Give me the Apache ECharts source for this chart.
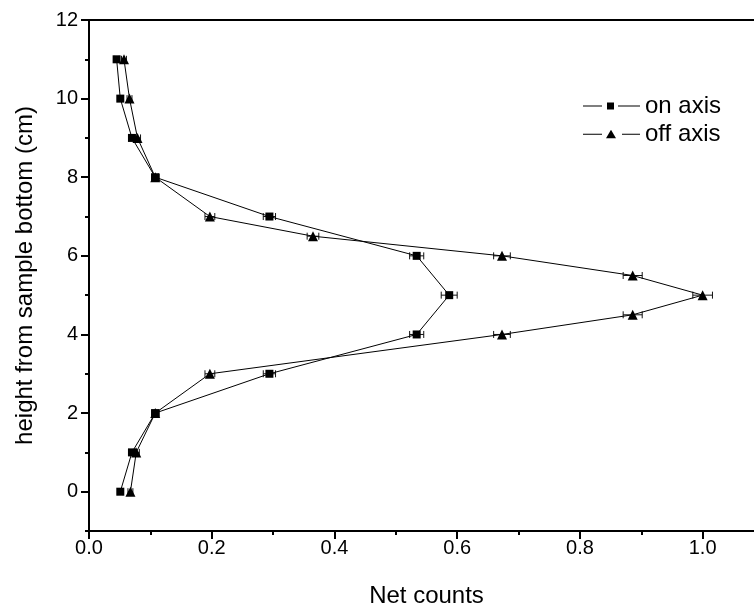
<!DOCTYPE html>
<html><head><meta charset="utf-8">
<script src="https://cdn.jsdelivr.net/npm/echarts@6/dist/echarts.min.js"></script>
<style>html,body{margin:0;padding:0;background:#fff}#c{width:754px;height:608px}</style>
</head><body><div id="c"></div>
<script>
// Data
const heightsOn = [11, 10, 9, 8, 7, 6, 5, 4, 3, 2, 1, 0];
const countsOn  = [0.045, 0.051, 0.070, 0.108, 0.294, 0.534, 0.587, 0.534, 0.294, 0.108, 0.070, 0.051];
const errOn     = [0.004, 0.004, 0.005, 0.006, 0.010, 0.0115, 0.013, 0.0115, 0.010, 0.006, 0.005, 0.004];

const heightsOff = [11, 10, 9, 8, 7, 6.5, 6, 5.5, 5, 4.5, 4, 3, 2, 1, 0];
const countsOff  = [0.057, 0.066, 0.079, 0.108, 0.197, 0.365, 0.673, 0.886, 1.0, 0.886, 0.673, 0.197, 0.108, 0.077, 0.0675];
const errOff     = [0.004, 0.004, 0.005, 0.006, 0.008, 0.0095, 0.0136, 0.0155, 0.016, 0.0155, 0.0136, 0.008, 0.006, 0.005, 0.004];

const xTickValues = [0, 0.2, 0.4, 0.6, 0.8, 1.0];
const yTickValues = [0, 2, 4, 6, 8, 10, 12];
const seriesNames = ['on axis', 'off axis'];
const xName = 'Net counts';
const yName = 'height from sample bottom (cm)';

const FONT = "'Liberation Sans', Arial, sans-serif";

const onData = countsOn.map((c, i) => [c, heightsOn[i]]);
const offData = countsOff.map((c, i) => [c, heightsOff[i]]);
const onErr = countsOn.map((c, i) => [c, heightsOn[i], errOn[i]]);
const offErr = countsOff.map((c, i) => [c, heightsOff[i], errOff[i]]);

function renderErr(params, api) {
  const x = api.value(0), y = api.value(1), e = api.value(2);
  const p1 = api.coord([x - e, y]);
  const p2 = api.coord([x + e, y]);
  const h = 3.5;
  const st = { stroke: '#111', lineWidth: 1, fill: null };
  return {
    type: 'group',
    children: [
      { type: 'line', shape: { x1: p1[0], y1: p1[1], x2: p2[0], y2: p2[1] }, style: st },
      { type: 'line', shape: { x1: p1[0], y1: p1[1] - h, x2: p1[0], y2: p1[1] + h }, style: st },
      { type: 'line', shape: { x1: p2[0], y1: p2[1] - h, x2: p2[0], y2: p2[1] + h }, style: st }
    ]
  };
}

const axisLineStyle = { color: '#000', width: 2 };

const chart = echarts.init(document.getElementById('c'), null, { renderer: 'canvas' });
chart.setOption({
  animation: false,
  backgroundColor: '#fff',
  textStyle: { fontFamily: FONT, color: '#000' },
  grid: { left: 89, top: 20, right: -10, bottom: 77, outerBoundsMode: 'none', containLabel: false },
  legend: {
    orient: 'vertical',
    left: 578,
    top: 89,
    itemWidth: 57,
    itemHeight: 14,
    itemGap: 4,
    itemStyle: { borderWidth: 0 },
    textStyle: { fontSize: 24, color: '#000', fontFamily: FONT, padding: [0, 0, 0, 0] },
    data: [
      { name: seriesNames[0], icon: 'path://M0,6.5H19V7.5H0Z M24,3.5H31V10.5H24Z M35,6.5H57V7.5H35Z' },
      { name: seriesNames[1], icon: 'path://M0,6.5H19V7.5H0Z M23,11L28,2.5L33,11Z M39,6.5H57V7.5H39Z' }
    ]
  },
  xAxis: [
    {
      type: 'value', position: 'bottom', min: 0, max: 1.1,
      name: xName, nameLocation: 'middle', nameGap: 53,
      nameTextStyle: { fontSize: 24, color: '#000', fontFamily: FONT },
      axisLine: { show: true, onZero: false, lineStyle: axisLineStyle },
      axisTick: { show: true, length: 8, lineStyle: { color: '#000', width: 2 }, customValues: xTickValues },
      axisLabel: { show: true, fontSize: 20, color: '#000', fontFamily: FONT, margin: 7,
        customValues: xTickValues, formatter: v => v.toFixed(1) },
      splitLine: { show: false }
    },
    {
      type: 'value', position: 'bottom', min: 0, max: 1.1, interval: 0.1,
      axisLine: { show: false, onZero: false },
      axisTick: { show: true, length: 4, lineStyle: { color: '#000', width: 2 } },
      axisLabel: { show: false },
      splitLine: { show: false }
    },
    {
      type: 'value', position: 'top', min: 0, max: 1.1,
      axisLine: { show: true, onZero: false, lineStyle: axisLineStyle },
      axisTick: { show: false },
      axisLabel: { show: false },
      splitLine: { show: false }
    }
  ],
  yAxis: [
    {
      type: 'value', position: 'left', min: -1, max: 12,
      name: yName, nameLocation: 'middle', nameGap: 52,
      nameTextStyle: { fontSize: 24, color: '#000', fontFamily: FONT },
      axisLine: { show: true, onZero: false, lineStyle: axisLineStyle },
      axisTick: { show: true, length: 8, lineStyle: { color: '#000', width: 2 }, customValues: yTickValues },
      axisLabel: { show: true, fontSize: 20, color: '#000', fontFamily: FONT, margin: 11,
        customValues: yTickValues },
      splitLine: { show: false }
    },
    {
      type: 'value', position: 'left', min: -1, max: 12, interval: 1,
      axisLine: { show: false, onZero: false },
      axisTick: { show: true, length: 4, lineStyle: { color: '#000', width: 2 } },
      axisLabel: { show: false },
      splitLine: { show: false }
    }
  ],
  series: [
    {
      type: 'custom', name: 'on axis err', xAxisIndex: 0, yAxisIndex: 0,
      renderItem: renderErr, data: onErr, encode: { x: 0, y: 1 }, z: 2, silent: true
    },
    {
      type: 'custom', name: 'off axis err', xAxisIndex: 0, yAxisIndex: 0,
      renderItem: renderErr, data: offErr, encode: { x: 0, y: 1 }, z: 2, silent: true
    },
    {
      type: 'line', name: seriesNames[0], xAxisIndex: 0, yAxisIndex: 0,
      data: onData, symbol: 'rect', symbolSize: 8, showSymbol: true,
      itemStyle: { color: '#000', borderWidth: 0 },
      lineStyle: { color: '#000', width: 1 }, z: 3
    },
    {
      type: 'line', name: seriesNames[1], xAxisIndex: 0, yAxisIndex: 0,
      data: offData, symbol: 'triangle', symbolSize: 10, showSymbol: true,
      itemStyle: { color: '#000', borderWidth: 0 },
      lineStyle: { color: '#000', width: 1 }, z: 3
    }
  ]
});
</script></body></html>
